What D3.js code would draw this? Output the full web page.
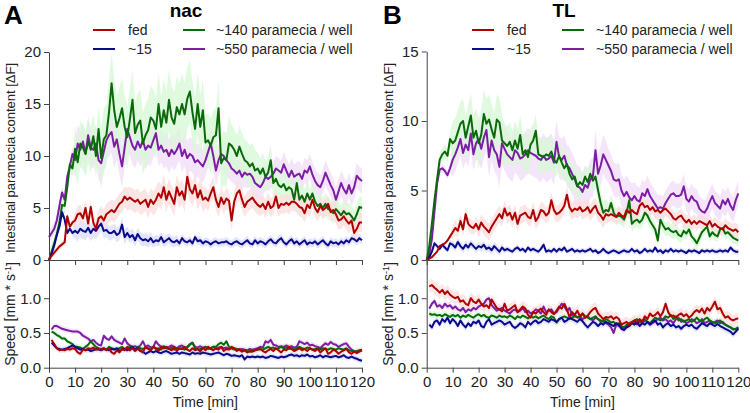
<!DOCTYPE html>
<html><head><meta charset="utf-8">
<script src="https://cdn.jsdelivr.net/npm/d3@7"></script>
<style>body{margin:0;background:#fff}svg{display:block;font-family:"Liberation Sans",Arial,sans-serif}</style>
</head><body><svg id="c" width="750" height="413"></svg>
<script>
// ---------- DATA ----------
const contentTimes = d3.range(0, 121);   // minutes 0..120
const speedTimes = d3.range(1, 121);     // minutes 1..120
const timeTicks = [0,10,20,30,40,50,60,70,80,90,100,110,120];
const groups = ["fed", "~15", "~140 paramecia / well", "~550 paramecia / well"];
const panelTitles = ["nac", "TL"];
const panelLetters = ["A", "B"];
const contentTicksA = [0,5,10,15,20];
const contentTicksB = [0,5,10,15];
const speedTicks = [0,0.5,1.0];

// Panel A (nac) – intestinal content
const contentA_fed = [0,0.4,0.7,1.0,1.3,1.5,1.7,4.2,3.2,3.6,3.8,4.4,4.5,4.0,5.0,3.5,5.1,3.6,3.0,4.0,4.2,3.8,4.4,4.6,4.8,4.6,5.0,5.4,5.6,6.1,5.8,6.0,5.8,5.6,5.8,5.4,5.6,5.8,5.1,5.8,5.4,5.8,6.4,6.0,7.0,5.8,6.6,6.0,5.4,7.0,6.2,6.6,5.8,8.0,6.8,6.4,7.2,6.0,6.7,5.8,6.0,5.7,6.4,7.0,5.8,5.1,6.0,5.4,5.9,5.7,3.8,5.6,6.4,6.7,5.8,5.1,5.6,5.8,6.0,5.6,5.3,5.1,5.4,4.9,5.6,5.0,5.2,6.1,5.0,5.4,5.3,5.5,5.3,5.6,5.6,5.4,5.1,5.0,4.5,5.3,5.0,5.8,5.0,4.6,5.2,4.8,5.0,5.4,4.6,4.8,4.4,3.8,3.9,4.2,3.8,3.5,3.8,2.6,3.0,3.6,3.6];
const contentA_15 = [0,0.6,1.4,2.4,3.2,4.6,3.9,2.6,3.0,2.6,2.8,2.6,3.0,2.8,2.7,3.1,2.6,3.0,2.8,3.2,3.5,2.8,2.9,2.6,2.6,2.8,2.4,2.6,3.4,2.2,2.6,2.2,2.4,1.9,2.5,2.1,1.9,2.0,1.8,2.1,1.7,1.9,1.8,2.2,1.7,1.9,2.1,1.8,1.7,1.9,1.6,2.1,1.8,1.7,1.9,1.6,2.2,1.8,1.9,1.6,1.8,1.7,1.5,1.7,1.8,1.6,1.7,1.7,1.8,1.6,1.5,1.7,1.8,1.6,1.5,1.7,1.9,1.6,1.5,1.9,1.6,1.8,1.7,1.5,1.8,2.0,1.7,1.6,1.9,2.1,1.7,1.5,1.8,2.0,1.6,1.8,1.5,1.7,1.9,1.5,1.7,1.6,1.8,1.5,1.7,1.9,1.6,1.4,1.8,1.6,1.7,1.5,1.8,1.6,1.9,1.7,2.1,2.0,1.8,2.1,1.9];
const contentA_140 = [0,0.8,1.6,2.5,3.6,5.3,5.2,7.0,9.2,8.8,10.7,9.4,11.2,10.8,10.2,11.4,10.6,11.9,10.0,12.6,9.8,11.6,12.0,14.2,17.0,14.4,12.8,13.6,14.6,12.8,11.8,13.5,15.4,12.2,13.0,13.4,11.2,12.0,12.5,13.7,13.4,12.6,15.0,12.8,14.4,13.2,15.4,13.7,13.1,14.7,14.0,15.0,14.0,15.5,16.2,14.2,12.6,15.0,12.8,14.4,11.3,11.5,11.0,11.8,12.0,14.6,9.3,9.8,9.6,11.2,11.0,10.6,10.0,10.9,10.2,9.6,9.4,9.0,9.3,8.6,8.8,8.3,8.8,8.0,8.4,9.6,7.4,7.8,7.2,7.0,7.3,6.7,7.0,6.8,5.8,7.4,5.8,6.2,5.6,6.4,5.8,6.4,5.6,5.2,5.4,5.0,5.4,4.9,4.8,4.5,4.9,4.6,4.3,4.7,4.4,4.5,4.2,3.8,4.4,5.1,5.0];
const contentA_550 = [2.2,2.6,3.0,3.8,5.2,6.5,5.8,8.0,9.0,10.2,9.6,11.2,10.6,11.4,10.2,12.0,10.8,10.6,11.2,9.6,9.3,10.4,11.5,12.0,12.3,10.9,11.6,10.2,9.0,10.8,12.6,11.8,11.0,10.6,11.4,10.8,11.5,10.6,11.0,10.8,11.5,12.2,10.6,11.0,10.4,10.6,10.0,10.6,10.2,10.6,11.2,10.0,10.6,9.8,10.2,10.0,9.4,9.6,9.3,9.0,9.6,10.4,11.2,10.0,8.6,9.6,10.2,10.0,9.6,9.3,8.8,8.6,8.3,8.6,8.0,8.4,8.2,8.3,8.0,7.4,7.2,7.0,7.4,8.0,7.8,8.0,8.3,8.8,8.6,8.4,9.2,8.6,8.0,8.6,8.0,8.2,8.3,7.8,8.6,8.4,9.0,8.2,7.6,7.2,7.0,7.6,8.4,7.8,7.2,6.7,5.8,6.6,7.4,6.8,6.4,7.2,6.4,7.0,8.1,7.8,7.6];

// Panel B (TL) – intestinal content
const contentB_fed = [0,0.1,0.2,0.4,0.6,1.0,1.1,1.2,1.4,1.7,2.0,2.3,2.1,2.8,2.2,3.3,2.6,2.4,2.3,2.6,2.2,2.7,2.4,2.2,2.0,2.4,2.7,3.0,3.3,3.0,3.7,3.2,3.4,2.9,3.4,2.6,3.2,3.3,3.4,3.1,3.0,3.6,2.8,3.1,3.6,3.5,3.2,3.4,4.3,3.6,3.3,3.4,3.6,3.9,4.7,3.8,3.5,3.7,3.6,3.8,3.5,3.6,3.8,3.4,3.7,3.9,3.4,3.2,2.9,3.3,3.2,3.3,3.2,3.1,3.4,3.2,3.1,3.6,3.4,3.6,3.4,3.3,3.9,4.1,3.8,3.9,3.6,3.8,3.5,3.6,3.4,3.6,3.7,3.5,3.3,3.0,2.9,3.1,3.2,2.9,2.7,2.9,2.6,2.8,2.6,2.8,2.7,2.6,2.5,2.8,2.4,2.6,2.4,2.3,2.2,2.5,2.3,2.2,2.1,2.2,2.0];
const contentB_15 = [0,0.2,0.6,1.2,1.0,0.8,1.1,0.9,0.7,1.2,1.1,0.9,1.3,1.0,0.8,1.1,0.9,1.2,1.0,0.8,1.0,0.9,1.1,0.8,0.9,0.7,1.0,0.8,0.6,0.9,0.7,0.8,0.7,0.6,0.8,0.9,0.7,0.8,0.6,0.9,0.7,0.8,0.7,0.6,0.8,1.1,0.6,0.7,0.6,0.8,0.6,0.8,0.7,0.9,0.6,0.7,0.8,0.6,0.7,0.6,0.7,0.6,0.7,0.8,0.6,0.7,0.5,0.6,0.8,0.6,0.5,0.6,0.7,0.6,0.5,0.6,0.7,0.6,0.6,0.8,0.6,0.7,0.5,0.6,0.8,0.6,0.7,0.6,0.9,0.6,0.7,0.5,0.7,0.6,0.8,0.6,0.7,0.6,0.7,0.6,0.5,0.7,0.6,0.7,0.6,0.5,0.7,0.6,0.7,0.6,0.7,0.6,0.6,0.7,0.6,0.7,0.6,0.9,0.7,0.6,0.6];
const contentB_140 = [0,1.0,2.6,4.3,5.8,7.2,7.6,7.8,7.5,8.7,8.4,8.6,9.2,9.8,10.0,8.8,9.6,10.4,8.8,9.3,8.4,9.0,10.5,9.8,10.1,9.4,8.8,10.1,9.9,8.6,8.4,8.2,8.5,7.9,8.6,8.0,9.0,7.6,7.9,7.4,8.3,8.6,9.3,7.6,7.5,7.4,7.6,7.5,7.8,7.2,7.0,7.5,7.0,6.6,6.9,6.2,5.8,6.0,5.3,5.6,5.4,6.0,5.6,6.2,5.7,6.0,5.0,4.1,3.4,3.6,3.5,4.1,3.4,3.1,3.2,3.1,2.9,3.4,4.3,2.6,2.8,2.9,2.7,2.9,3.4,3.2,2.8,2.5,2.2,1.4,2.9,2.5,2.2,2.3,2.1,2.0,2.1,1.8,1.7,2.1,1.9,2.2,1.7,1.5,1.2,1.6,2.0,2.2,2.4,1.7,2.0,1.8,1.7,2.2,2.3,1.9,2.0,1.8,1.6,1.5,1.4];
const contentB_550 = [0,0.4,1.5,3.5,5.5,6.5,6.6,6.4,6.1,6.6,7.2,7.6,8.1,8.7,7.7,8.3,7.9,9.1,7.6,8.4,8.7,8.0,8.8,9.35,7.4,8.6,7.9,7.6,6.7,8.4,8.0,7.6,7.4,7.2,7.9,7.7,7.3,7.4,7.6,7.9,7.7,7.6,7.5,7.3,7.2,7.5,7.2,7.3,7.5,7.0,8.5,7.4,7.2,7.5,6.8,6.6,6.2,5.8,5.3,5.2,4.9,5.4,5.2,5.8,6.0,7.9,6.2,6.8,7.6,7.2,6.8,6.4,5.8,5.7,5.8,5.0,4.6,4.9,4.5,4.3,4.6,4.3,4.2,4.8,4.6,5.1,4.6,4.3,4.0,3.7,3.8,3.7,4.1,4.4,4.7,4.8,4.6,4.6,4.7,5.3,4.4,4.2,4.6,4.3,4.2,3.7,3.5,3.4,3.7,4.2,4.6,4.1,3.9,3.7,4.3,4.0,4.4,3.9,3.6,4.3,4.8];

// Speed, panel A (nac)
const speedA_fed = [0.4,0.34,0.28,0.25,0.26,0.25,0.27,0.26,0.28,0.27,0.22,0.2,0.26,0.25,0.28,0.27,0.29,0.26,0.27,0.26,0.28,0.25,0.28,0.22,0.2,0.25,0.22,0.27,0.25,0.3,0.25,0.28,0.24,0.27,0.25,0.22,0.3,0.27,0.25,0.3,0.28,0.24,0.3,0.28,0.3,0.27,0.25,0.3,0.24,0.28,0.27,0.3,0.26,0.24,0.28,0.25,0.27,0.23,0.29,0.25,0.3,0.27,0.25,0.28,0.26,0.3,0.24,0.27,0.26,0.3,0.28,0.24,0.27,0.23,0.25,0.22,0.24,0.23,0.25,0.26,0.27,0.24,0.22,0.25,0.27,0.24,0.28,0.25,0.22,0.26,0.25,0.3,0.27,0.24,0.26,0.28,0.25,0.27,0.24,0.28,0.26,0.24,0.27,0.22,0.25,0.28,0.2,0.22,0.26,0.24,0.2,0.23,0.25,0.27,0.22,0.2,0.23,0.21,0.24,0.25];
const speedA_15 = [0.36,0.32,0.28,0.27,0.26,0.27,0.28,0.3,0.32,0.3,0.28,0.26,0.27,0.25,0.26,0.24,0.25,0.27,0.26,0.25,0.27,0.26,0.25,0.27,0.26,0.28,0.24,0.26,0.27,0.25,0.27,0.3,0.26,0.28,0.24,0.23,0.2,0.22,0.24,0.22,0.24,0.22,0.21,0.23,0.24,0.22,0.2,0.21,0.22,0.2,0.22,0.21,0.2,0.19,0.22,0.2,0.21,0.2,0.22,0.21,0.2,0.19,0.2,0.21,0.22,0.2,0.18,0.2,0.19,0.17,0.18,0.17,0.16,0.18,0.12,0.16,0.15,0.16,0.15,0.16,0.15,0.16,0.14,0.15,0.17,0.16,0.15,0.14,0.16,0.15,0.16,0.18,0.19,0.17,0.18,0.16,0.18,0.17,0.19,0.16,0.17,0.15,0.16,0.18,0.15,0.17,0.16,0.15,0.16,0.17,0.15,0.16,0.18,0.15,0.14,0.16,0.14,0.13,0.11,0.1];
const speedA_140 = [0.52,0.5,0.47,0.45,0.42,0.42,0.38,0.36,0.34,0.3,0.3,0.29,0.27,0.3,0.33,0.38,0.34,0.3,0.28,0.27,0.28,0.26,0.3,0.28,0.27,0.26,0.28,0.3,0.27,0.28,0.3,0.28,0.26,0.3,0.28,0.27,0.29,0.28,0.26,0.3,0.27,0.28,0.26,0.3,0.28,0.27,0.29,0.26,0.28,0.27,0.28,0.26,0.29,0.33,0.36,0.28,0.26,0.27,0.28,0.3,0.27,0.28,0.3,0.3,0.34,0.36,0.33,0.38,0.3,0.28,0.26,0.27,0.25,0.24,0.25,0.24,0.23,0.24,0.25,0.26,0.27,0.26,0.28,0.3,0.28,0.29,0.27,0.28,0.3,0.28,0.29,0.27,0.28,0.26,0.28,0.3,0.28,0.27,0.29,0.28,0.26,0.27,0.28,0.26,0.28,0.27,0.26,0.28,0.27,0.26,0.28,0.27,0.26,0.28,0.25,0.24,0.23,0.24,0.25,0.26];
const speedA_550 = [0.55,0.6,0.6,0.58,0.56,0.55,0.54,0.53,0.52,0.52,0.52,0.5,0.46,0.44,0.42,0.38,0.4,0.36,0.33,0.32,0.46,0.42,0.4,0.45,0.4,0.38,0.36,0.34,0.42,0.35,0.32,0.3,0.31,0.29,0.32,0.38,0.3,0.32,0.29,0.3,0.38,0.33,0.3,0.31,0.29,0.3,0.32,0.3,0.28,0.31,0.32,0.29,0.3,0.34,0.36,0.3,0.29,0.31,0.28,0.3,0.29,0.28,0.3,0.27,0.29,0.3,0.28,0.29,0.27,0.28,0.28,0.27,0.26,0.27,0.26,0.25,0.27,0.26,0.27,0.28,0.3,0.29,0.38,0.36,0.4,0.33,0.32,0.3,0.31,0.3,0.32,0.3,0.31,0.29,0.3,0.38,0.36,0.34,0.36,0.32,0.33,0.31,0.3,0.28,0.32,0.35,0.33,0.37,0.34,0.33,0.3,0.32,0.34,0.35,0.3,0.26,0.24,0.22,0.23,0.25];

// Speed, panel B (TL)
const speedB_fed = [1.17,1.19,1.15,1.12,1.08,1.12,1.06,1.1,1.05,1.02,1.0,1.02,0.95,0.97,0.92,0.9,1.0,0.95,0.93,0.98,0.92,0.88,0.9,0.86,0.98,0.92,0.86,0.84,0.81,0.92,0.82,0.84,0.87,0.9,0.8,0.84,0.88,0.85,0.76,0.72,0.8,0.78,0.82,0.85,0.8,0.76,0.84,0.8,0.77,0.82,0.88,0.85,0.92,0.84,0.73,0.8,0.76,0.82,0.74,0.78,0.72,0.75,0.8,0.84,0.86,0.78,0.74,0.7,0.73,0.72,0.74,0.7,0.73,0.7,0.62,0.64,0.66,0.62,0.65,0.68,0.66,0.7,0.66,0.74,0.7,0.78,0.74,0.76,0.8,0.74,0.8,0.92,0.8,0.74,0.75,0.72,0.76,0.78,0.74,0.77,0.72,0.75,0.8,0.83,0.8,0.85,0.78,0.86,0.82,0.88,0.95,0.84,0.86,0.78,0.72,0.74,0.7,0.68,0.7,0.71];
const speedB_15 = [0.62,0.58,0.66,0.68,0.62,0.7,0.66,0.72,0.64,0.7,0.66,0.6,0.68,0.62,0.58,0.64,0.6,0.66,0.64,0.68,0.6,0.58,0.66,0.7,0.62,0.64,0.66,0.68,0.66,0.62,0.64,0.66,0.6,0.57,0.6,0.64,0.62,0.58,0.66,0.62,0.66,0.68,0.64,0.66,0.7,0.68,0.66,0.7,0.68,0.66,0.7,0.72,0.66,0.68,0.72,0.7,0.68,0.66,0.7,0.67,0.62,0.58,0.62,0.66,0.64,0.6,0.64,0.62,0.66,0.64,0.62,0.6,0.64,0.62,0.56,0.54,0.58,0.6,0.64,0.62,0.66,0.6,0.64,0.62,0.66,0.62,0.66,0.68,0.62,0.64,0.58,0.62,0.64,0.6,0.62,0.58,0.6,0.56,0.6,0.62,0.6,0.62,0.58,0.56,0.6,0.64,0.62,0.6,0.64,0.62,0.6,0.63,0.6,0.58,0.56,0.54,0.52,0.48,0.52,0.56];
const speedB_140 = [0.78,0.76,0.77,0.75,0.76,0.74,0.77,0.75,0.73,0.76,0.74,0.76,0.72,0.75,0.73,0.76,0.74,0.72,0.75,0.77,0.74,0.76,0.73,0.72,0.75,0.74,0.72,0.75,0.73,0.74,0.72,0.75,0.73,0.7,0.74,0.72,0.75,0.73,0.71,0.74,0.72,0.74,0.71,0.73,0.75,0.72,0.7,0.74,0.72,0.65,0.7,0.72,0.74,0.72,0.7,0.72,0.74,0.73,0.72,0.78,0.74,0.72,0.7,0.72,0.74,0.7,0.68,0.66,0.7,0.68,0.65,0.66,0.62,0.64,0.6,0.58,0.62,0.64,0.66,0.68,0.7,0.66,0.68,0.7,0.66,0.64,0.68,0.72,0.7,0.68,0.7,0.74,0.72,0.76,0.7,0.74,0.68,0.7,0.66,0.68,0.7,0.66,0.68,0.72,0.68,0.66,0.7,0.72,0.68,0.66,0.64,0.66,0.68,0.64,0.62,0.6,0.58,0.55,0.56,0.58];
const speedB_550 = [0.85,0.92,0.96,0.88,0.9,0.86,0.92,0.88,0.9,0.85,0.88,0.84,0.82,0.86,0.8,0.84,0.82,0.86,0.84,0.88,0.9,0.92,0.98,1.0,0.9,0.86,0.82,0.84,0.86,0.82,0.8,0.78,0.82,0.84,0.8,0.82,0.86,0.8,0.82,0.78,0.8,0.84,0.82,0.78,0.88,0.8,0.82,0.84,0.78,0.8,0.86,0.92,0.88,0.82,0.86,0.75,0.76,0.72,0.74,0.7,0.72,0.74,0.7,0.68,0.72,0.7,0.66,0.68,0.64,0.62,0.58,0.5,0.62,0.6,0.58,0.56,0.6,0.62,0.64,0.66,0.62,0.66,0.64,0.68,0.66,0.62,0.64,0.67,0.7,0.72,0.68,0.7,0.66,0.68,0.64,0.7,0.72,0.66,0.68,0.64,0.66,0.7,0.68,0.64,0.66,0.7,0.64,0.66,0.68,0.64,0.66,0.68,0.64,0.66,0.62,0.6,0.58,0.56,0.55,0.58];

// Error band half-widths, one value per 10-min bin (0-9, 10-19, ... 120)
const semContentA_fed = [0.3,0.8,1.0,1.1,1.2,1.2,1.0,1.0,0.9,0.9,0.9,0.9,0.9];
const semContentA_15  = [0.3,0.8,0.7,0.6,0.5,0.4,0.4,0.4,0.4,0.4,0.4,0.4,0.4];
const semContentA_140 = [0.8,2.2,3.0,3.0,3.0,3.0,2.6,2.0,1.5,1.2,1.0,1.0,1.0];
const semContentA_550 = [0.6,1.8,2.0,1.8,1.6,1.6,1.5,1.3,1.2,1.2,1.2,1.2,1.2];
const semContentB_fed = [0.1,0.5,0.6,0.6,0.6,0.6,0.6,0.5,0.5,0.5,0.5,0.5,0.5];
const semContentB_15  = [0.2,0.3,0.3,0.2,0.2,0.2,0.2,0.2,0.2,0.2,0.2,0.2,0.2];
const semContentB_140 = [0.5,1.6,1.8,1.4,1.2,1.0,0.8,0.6,0.5,0.5,0.4,0.4,0.4];
const semContentB_550 = [0.3,1.2,1.5,1.6,1.6,1.5,1.4,1.2,1.0,0.9,0.9,0.9,0.9];
const semSpeedA = [0.04,0.04,0.04,0.04,0.04,0.04,0.04,0.04,0.04,0.04,0.04,0.04,0.04];
const semSpeedB_fed = [0.09,0.09,0.08,0.08,0.08,0.08,0.08,0.08,0.08,0.08,0.08,0.08,0.08];
const semSpeedB_other = [0.05,0.05,0.05,0.05,0.05,0.05,0.05,0.05,0.05,0.05,0.05,0.05,0.05];

// ---------- STYLE ----------
const lineColors = ["#b00000", "#0a0a8a", "#0a6a0a", "#7c1ea4"];
const bandColors = ["#fbdcdc", "#d9dcfb", "#d6f8d6", "#f1dcf8"];
const drawOrder = [3, 2, 1, 0];
const AX = "#444";

const svg = d3.select("#c");

function drawPanel(cfg) {
  const x = d3.scaleLinear().domain([0, 120]).range([cfg.x0, cfg.x1]);
  const yTop = d3.scaleLinear().domain([0, cfg.topMax]).range([260, cfg.topY]);
  const yBot = d3.scaleLinear().domain([0, 1.55]).range([367.7, 260]);
  const g = svg.append("g");

  function drawSet(times, sets, sems, y) {
    const bandG = g.append("g"), lineG = g.append("g");
    drawOrder.forEach(k => {
      const vals = sets[k], sem = sems[k];
      const pts = times.map((t, i) => ({t, v: vals[i], e: sem[Math.min(12, Math.floor(t / 10))]}));
      bandG.append("path").datum(pts)
        .attr("fill", bandColors[k]).attr("fill-opacity", 0.75)
        .attr("d", d3.area().x(d => x(d.t)).y0(d => y(Math.max(0, d.v - d.e))).y1(d => y(d.v + d.e)));
    });
    drawOrder.forEach(k => {
      const vals = sets[k];
      const pts = times.map((t, i) => ({t, v: vals[i]}));
      lineG.append("path").datum(pts)
        .attr("fill", "none").attr("stroke", lineColors[k]).attr("stroke-width", 2)
        .attr("stroke-linejoin", "round")
        .attr("d", d3.line().x(d => x(d.t)).y(d => y(d.v)));
    });
  }
  drawSet(contentTimes, cfg.content, cfg.contentSem, yTop);
  drawSet(speedTimes, cfg.speed, cfg.speedSem, yBot);

  function style(a) {
    a.selectAll("path,line").attr("stroke", AX);
    a.selectAll("text").attr("fill", "#222").attr("font-size", 15).attr("font-family", '"Liberation Sans",Arial,sans-serif');
  }
  // axes
  g.append("g").attr("transform", "translate(0,260)")
    .call(d3.axisBottom(x).tickValues(timeTicks).tickSize(5).tickSizeOuter(0).tickFormat(""))
    .call(style);
  g.append("g").attr("transform", "translate(0,367.7)")
    .call(d3.axisBottom(x).tickValues(timeTicks).tickSize(5).tickSizeOuter(0).tickPadding(4))
    .call(style);
  g.append("g").attr("transform", `translate(${cfg.x0},0)`)
    .call(d3.axisLeft(yTop).tickValues(cfg.topTicks).tickSize(5).tickSizeOuter(0).tickPadding(3))
    .call(style);
  g.append("g").attr("transform", `translate(${cfg.x0},0)`)
    .call(d3.axisLeft(yBot).tickValues(speedTicks).tickSize(5).tickSizeOuter(0).tickPadding(3).tickFormat(d3.format(".1f")))
    .call(style);

  // axis titles
  g.append("text").attr("transform", `translate(${cfg.labX},158) rotate(-90)`)
    .attr("text-anchor", "middle").attr("dy", "0.35em").attr("font-size", 13).attr("fill", "#222")
    .text("Intestinal paramecia content [ΔF]");
  const sp = g.append("text").attr("transform", `translate(${cfg.labX},314) rotate(-90)`)
    .attr("text-anchor", "middle").attr("dy", "0.35em").attr("font-size", 14).attr("fill", "#222");
  sp.append("tspan").text("Speed [mm * s");
  sp.append("tspan").attr("dy", "-0.45em").attr("font-size", 9).text("-1");
  sp.append("tspan").attr("dy", "0.45em").text("]");
  g.append("text").attr("x", x(60)).attr("y", 407).attr("text-anchor", "middle")
    .attr("font-size", 14).attr("fill", "#222").text("Time [min]");

  // titles
  g.append("text").attr("x", cfg.letterX).attr("y", 24).attr("font-size", 26).attr("font-weight", "bold").text(cfg.letter);
  g.append("text").attr("x", cfg.titleX).attr("y", 17).attr("text-anchor", "middle")
    .attr("font-size", 19).attr("font-weight", "bold").text(cfg.title);

  // legend
  const legOrder = [[0, 0, 0], [1, 0, 1], [2, 1, 0], [3, 1, 1]];
  legOrder.forEach(([k, col, row]) => {
    const yy = 30 + row * 19;
    g.append("line").attr("x1", cfg.legLine[col]).attr("x2", cfg.legLine[col] + 22)
      .attr("y1", yy).attr("y2", yy).attr("stroke", lineColors[k]).attr("stroke-width", 2);
    g.append("text").attr("x", cfg.legText[col]).attr("y", yy).attr("dy", "0.35em")
      .attr("font-size", 14).attr("fill", "#222").text(groups[k]);
  });
}

drawPanel({
  x0: 49, x1: 362, topMax: 20, topY: 52, topTicks: contentTicksA,
  content: [contentA_fed, contentA_15, contentA_140, contentA_550],
  contentSem: [semContentA_fed, semContentA_15, semContentA_140, semContentA_550],
  speed: [speedA_fed, speedA_15, speedA_140, speedA_550],
  speedSem: [semSpeedA, semSpeedA, semSpeedA, semSpeedA],
  labX: 10, letter: panelLetters[0], letterX: 4, title: panelTitles[0], titleX: 186,
  legLine: [93, 183], legText: [128, 216]
});
drawPanel({
  x0: 426.7, x1: 738.3, topMax: 15, topY: 51.5, topTicks: contentTicksB,
  content: [contentB_fed, contentB_15, contentB_140, contentB_550],
  contentSem: [semContentB_fed, semContentB_15, semContentB_140, semContentB_550],
  speed: [speedB_fed, speedB_15, speedB_140, speedB_550],
  speedSem: [semSpeedB_fed, semSpeedB_other, semSpeedB_other, semSpeedB_other],
  labX: 388, letter: panelLetters[1], letterX: 383, title: panelTitles[1], titleX: 564,
  legLine: [472, 562], legText: [507, 596]
});
</script></body></html>
